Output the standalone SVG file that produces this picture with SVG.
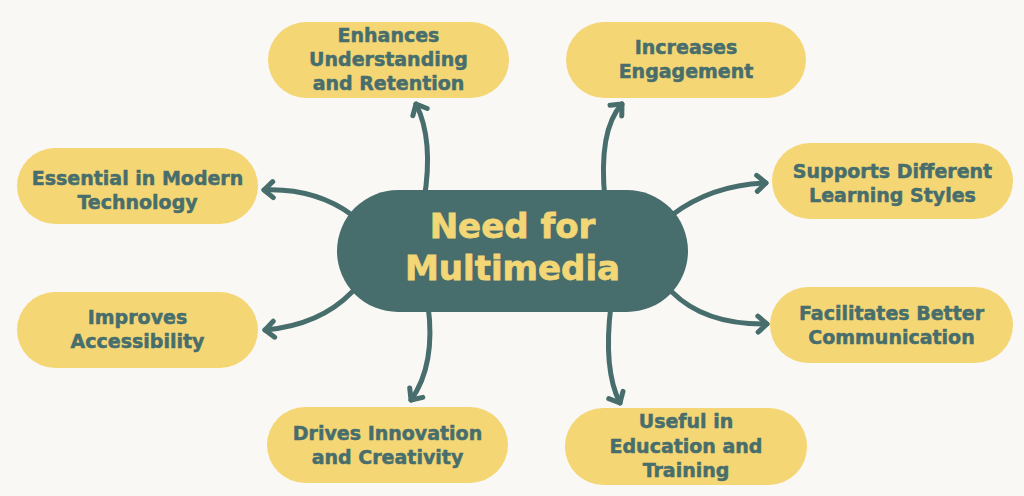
<svg xmlns="http://www.w3.org/2000/svg" width="1024" height="496" viewBox="0 0 1024 496">
<defs>
<style>
.pill{fill:#f5d675;}
.pt{font-family:"DejaVu Sans",sans-serif;font-weight:bold;font-size:19px;fill:#476e6c;stroke:#476e6c;stroke-width:0.5;text-anchor:middle;}
.ct{font-family:"DejaVu Sans",sans-serif;font-weight:bold;font-size:34px;fill:#f3d676;stroke:#f3d676;stroke-width:0.8;text-anchor:middle;}
.arr{fill:none;stroke:#476e6c;stroke-width:5;stroke-linecap:round;marker-end:url(#ah);}
</style>
<marker id="ah" viewBox="0 0 22 22" refX="15" refY="11" markerWidth="22" markerHeight="22" markerUnits="userSpaceOnUse" orient="auto">
<path d="M6,3 L15,11 L6,19" fill="none" stroke="#476e6c" stroke-width="5" stroke-linecap="round" stroke-linejoin="round"/>
</marker>
</defs>
<rect width="1024" height="496" fill="#f9f8f4"/>
<g id="connectors">
<path class="arr" d="M424,200 Q434,140 416,104"/>
<path class="arr" d="M605,200 Q598,130 622,104"/>
<path class="arr" d="M672,215 Q712,185 766,183"/>
<path class="arr" d="M352,215 Q315,188 264,190"/>
<path class="arr" d="M352,292 Q320,325 265,330"/>
<path class="arr" d="M672,292 Q705,325 767,324"/>
<path class="arr" d="M428,305 Q436,365 411,400"/>
<path class="arr" d="M611,305 Q603,370 620,403"/>
</g>
<g id="center">
<rect x="337" y="190" width="351" height="122" rx="61" fill="#476e6c"/>
<text class="ct" x="512.5" y="238">Need for</text>
<text class="ct" x="512.5" y="280">Multimedia</text>
</g>
<g id="n1">
<rect class="pill" x="268" y="22" width="241" height="76" rx="38"/>
<text class="pt" x="388.5" y="42">Enhances</text>
<text class="pt" x="388.5" y="66">Understanding</text>
<text class="pt" x="388.5" y="90">and Retention</text>
</g>
<g id="n2">
<rect class="pill" x="566" y="22" width="240" height="76" rx="38"/>
<text class="pt" x="686" y="54">Increases</text>
<text class="pt" x="686" y="78">Engagement</text>
</g>
<g id="n3">
<rect class="pill" x="17" y="148" width="241" height="76" rx="38"/>
<text class="pt" x="137.5" y="185">Essential in Modern</text>
<text class="pt" x="137.5" y="209">Technology</text>
</g>
<g id="n4">
<rect class="pill" x="772" y="143" width="241" height="76" rx="38"/>
<text class="pt" x="892.5" y="178">Supports Different</text>
<text class="pt" x="892.5" y="202">Learning Styles</text>
</g>
<g id="n5">
<rect class="pill" x="17" y="292" width="241" height="76" rx="38"/>
<text class="pt" x="137.5" y="324">Improves</text>
<text class="pt" x="137.5" y="348">Accessibility</text>
</g>
<g id="n6">
<rect class="pill" x="770" y="287" width="243" height="76" rx="38"/>
<text class="pt" x="891.5" y="320">Facilitates Better</text>
<text class="pt" x="891.5" y="344">Communication</text>
</g>
<g id="n7">
<rect class="pill" x="267" y="407" width="241" height="76" rx="38"/>
<text class="pt" x="387.5" y="440">Drives Innovation</text>
<text class="pt" x="387.5" y="464">and Creativity</text>
</g>
<g id="n8">
<rect class="pill" x="565" y="408" width="242" height="77" rx="38"/>
<text class="pt" x="686" y="428">Useful in</text>
<text class="pt" x="686" y="453">Education and</text>
<text class="pt" x="686" y="477">Training</text>
</g>
</svg>
